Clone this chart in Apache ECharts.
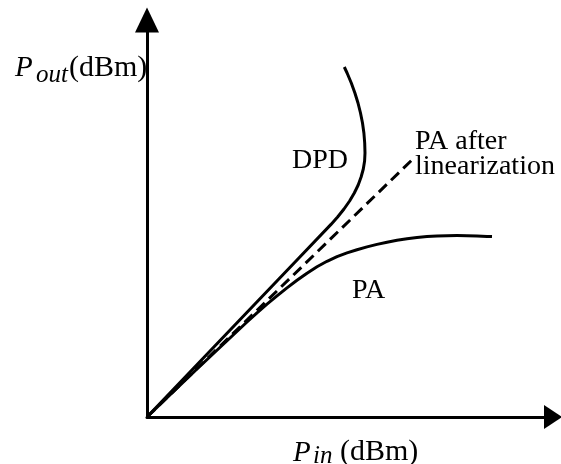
<!DOCTYPE html>
<html>
<head>
<meta charset="utf-8">
<script src="https://cdn.jsdelivr.net/npm/echarts@6/dist/echarts.min.js"></script>
<style>html,body{margin:0;padding:0;background:#fff;}#c{width:561px;height:464px;}</style>
</head>
<body>
<div id="c"></div>
<script>
// Data (arbitrary units, origin at axis crossing)
const dpdX = [0, 150, 184, 190.6, 197, 202.6, 207.3, 211.2, 214.1, 216.3, 217.6, 218, 217.7, 216.9, 215.5, 213.5, 211, 207.9, 204.3, 200.1, 197.3];
const dpdY = [0, 157, 192.6, 200, 208, 216, 224, 232, 240, 248, 256, 264, 274, 284, 294, 304, 314, 324, 334, 344, 350];
const paX = [0, 50, 100, 110, 120, 130, 140, 150, 160, 170, 180, 190, 200, 210, 220, 230, 240, 250, 260, 270, 280, 290, 300, 310, 320, 330, 340, 345];
const paY = [0, 48, 95, 104.1, 112.8, 121.1, 129.1, 136.7, 143.8, 150.2, 155.7, 160.3, 164.1, 167.3, 170.1, 172.6, 174.8, 176.7, 178.3, 179.5, 180.4, 181, 181.3, 181.4, 181.3, 181, 180.6, 180.4];
const linX = [0, 267];
const linY = [0, 259];
const xMax = 406;
const yMax = 397;

const zip = (a, b) => a.map((v, i) => [v, b[i]]);
const chart = echarts.init(document.getElementById('c'), null, {renderer: 'canvas'});
const axisCommon = {
  type: 'value', min: 0,
  axisTick: {show: false}, axisLabel: {show: false}, splitLine: {show: false}
};
chart.setOption({
  animation: false,
  backgroundColor: '#fff',
  grid: {left: 147, top: 20, right: 8, bottom: 47},
  xAxis: Object.assign({}, axisCommon, {
    max: xMax,
    axisLine: {lineStyle: {color: '#000', width: 3}, symbol: ['none', 'triangle'], symbolSize: [24, 18]}
  }),
  yAxis: Object.assign({}, axisCommon, {
    max: yMax,
    axisLine: {lineStyle: {color: '#000', width: 3}, symbol: ['none', 'triangle'], symbolSize: [24, 25]}
  }),
  series: [
    {type: 'line', data: zip(dpdX, dpdY), smooth: false, showSymbol: false, lineStyle: {color: '#000', width: 3, join: 'round'}},
    {type: 'line', data: zip(paX, paY), smooth: false, showSymbol: false, lineStyle: {color: '#000', width: 3, join: 'round'}},
    {type: 'line', data: zip(linX, linY), showSymbol: false, lineStyle: {color: '#000', width: 3, type: [11, 6]}}
  ],
  graphic: [
    {type: 'text', left: 15, top: 54, style: {text: 'P', font: 'italic 29px "Liberation Serif"', fill: '#000'}},
    {type: 'text', left: 36, top: 63, style: {text: 'out', font: 'italic 25px "Liberation Serif"', fill: '#000'}},
    {type: 'text', left: 69, top: 53, style: {text: '(dBm)', font: '30px "Liberation Serif"', fill: '#000'}},
    {type: 'text', left: 293, top: 439, style: {text: 'P', font: 'italic 29px "Liberation Serif"', fill: '#000'}},
    {type: 'text', left: 313, top: 444, style: {text: 'in', font: 'italic 25px "Liberation Serif"', fill: '#000'}},
    {type: 'text', left: 340, top: 437, style: {text: '(dBm)', font: '30px "Liberation Serif"', fill: '#000'}},
    {type: 'text', left: 292, top: 147, style: {text: 'DPD', font: '28px "Liberation Serif"', fill: '#000'}},
    {type: 'text', left: 415, top: 128, style: {text: 'PA after', font: '28px "Liberation Serif"', fill: '#000'}},
    {type: 'text', left: 415, top: 153, style: {text: 'linearization', font: '28px "Liberation Serif"', fill: '#000'}},
    {type: 'text', left: 352, top: 277, style: {text: 'PA', font: '28px "Liberation Serif"', fill: '#000'}}
  ]
});
</script>
</body>
</html>
